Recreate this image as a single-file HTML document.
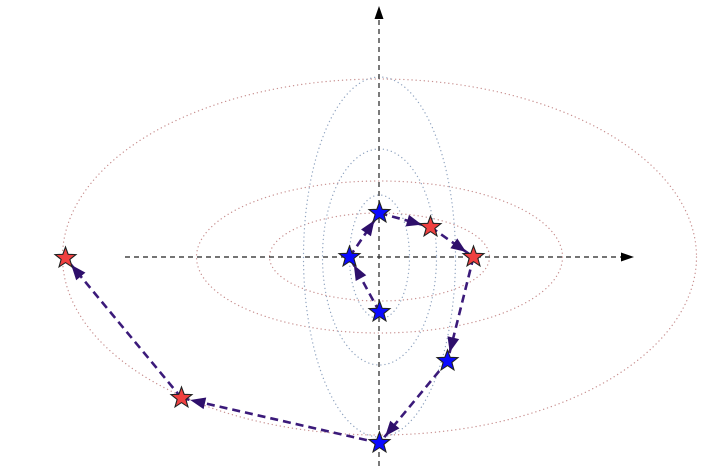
<!DOCTYPE html>
<html><head><meta charset="utf-8"><style>
html,body{margin:0;padding:0;background:#fff;width:717px;height:466px;overflow:hidden}
svg{display:block}
</style></head><body>
<svg id="chart" width="717" height="466" viewBox="0 0 717 466" xmlns="http://www.w3.org/2000/svg">
<g id="ellipses"></g>
<g id="axes">
  <line x1="125" y1="257" x2="623" y2="257" stroke="#222" stroke-width="1.3" stroke-dasharray="5,4"/>
  <polygon points="621,252.5 634,257 621,261.5" fill="#000"/>
  <line x1="379" y1="466" x2="379" y2="18" stroke="#333" stroke-width="1.3" stroke-dasharray="5,4"/>
  <polygon points="374.5,19 379,6 383.5,19" fill="#000"/>
</g>
<g id="path"></g>
<g id="stars"></g>
</svg>
<script>
// data units: origin at axes crossing, 1 unit = 1 px
const ellipseRx = [317, 183, 110, 76, 57, 30];
const ellipseRy = [178, 76, 44, 180, 108, 62];
const ellipseColor = ['#c89090', '#c89090', '#c89090', '#90a4c0', '#90a4c0', '#90a4c0'];
const pointX = [0, -30, 0, 51, 94, 68, 0, -198, -314];
const pointY = [-55, 0, 44, 30, 0, -104, -186, -141, -1];
const pointKind = ['blue', 'blue', 'blue', 'red', 'red', 'blue', 'blue', 'red', 'red'];

const cx = 379.5, cy = 257;
const sx = v => cx + v;
const sy = v => cy - v;
const NS = 'http://www.w3.org/2000/svg';
const mk = (t, a) => { const e = document.createElementNS(NS, t); for (const k in a) e.setAttribute(k, a[k]); return e; };

const eg = document.getElementById('ellipses');
ellipseRx.forEach((rx, i) => {
  const e = mk('ellipse', {cx: cx, cy: cy, rx: rx, ry: ellipseRy[i], fill: 'none', stroke: ellipseColor[i], 'stroke-width': 1.3, 'stroke-dasharray': '0.1,4', 'stroke-linecap': 'round'});
  
  
  eg.appendChild(e);
});

const pg = document.getElementById('path');
for (let i = 0; i < pointX.length - 1; i++) {
  const x1 = sx(pointX[i]), y1 = sy(pointY[i]), x2 = sx(pointX[i + 1]), y2 = sy(pointY[i + 1]);
  const l = mk('line', {x1, y1, x2, y2, stroke: '#3b1a7a', 'stroke-width': 2.6, 'stroke-dasharray': '8,5'});
  
  
  pg.appendChild(l);
  const dx = x2 - x1, dy = y2 - y1, L = Math.hypot(dx, dy), ux = dx / L, uy = dy / L;
  const tx = x2 - ux * 9, ty = y2 - uy * 9;
  const bx = tx - ux * 15, by = ty - uy * 15;
  const a = mk('polygon', {points: `${tx},${ty} ${bx - uy * 6},${by + ux * 6} ${bx + uy * 6},${by - ux * 6}`, fill: '#2e0f6b'});
  
  
  pg.appendChild(a);
}

const sg = document.getElementById('stars');
function starPts(x, y, R, r) {
  const p = [];
  for (let k = 0; k < 10; k++) {
    const ang = -Math.PI / 2 + k * Math.PI / 5, rad = k % 2 ? r : R;
    p.push((x + rad * Math.cos(ang)).toFixed(2) + ',' + (y + rad * Math.sin(ang)).toFixed(2));
  }
  return p.join(' ');
}
pointX.forEach((v, i) => {
  const s = mk('polygon', {points: starPts(sx(v), sy(pointY[i]), 11, 4.6), fill: pointKind[i] === 'red' ? '#f04040' : '#0a0aff', stroke: '#222', 'stroke-width': 1.1});
  
  
  sg.appendChild(s);
});
</script>
</body></html>
